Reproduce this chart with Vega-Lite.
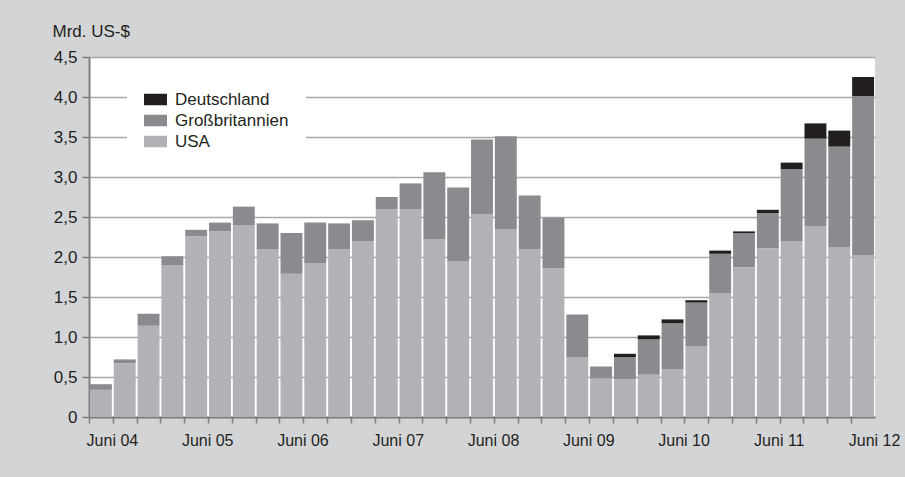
{
  "$schema": "https://vega.github.io/schema/vega-lite/v6.json",
  "width": 786,
  "height": 360,
  "autosize": {"type": "none"},
  "padding": {"left": 89, "top": 57, "right": 30, "bottom": 60},
  "background": "#d3d4d6",
  "view": {"fill": "#ffffff", "stroke": null},
  "data": {
    "values": [
      {"quartal": "Juni 04", "land": "USA", "wert": 0.34},
      {"quartal": "Juni 04", "land": "Großbritannien", "wert": 0.07},
      {"quartal": "Sept. 04", "land": "USA", "wert": 0.67},
      {"quartal": "Sept. 04", "land": "Großbritannien", "wert": 0.05},
      {"quartal": "Dez. 04", "land": "USA", "wert": 1.14},
      {"quartal": "Dez. 04", "land": "Großbritannien", "wert": 0.15},
      {"quartal": "März 05", "land": "USA", "wert": 1.90},
      {"quartal": "März 05", "land": "Großbritannien", "wert": 0.11},
      {"quartal": "Juni 05", "land": "USA", "wert": 2.26},
      {"quartal": "Juni 05", "land": "Großbritannien", "wert": 0.08},
      {"quartal": "Sept. 05", "land": "USA", "wert": 2.32},
      {"quartal": "Sept. 05", "land": "Großbritannien", "wert": 0.11},
      {"quartal": "Dez. 05", "land": "USA", "wert": 2.40},
      {"quartal": "Dez. 05", "land": "Großbritannien", "wert": 0.23},
      {"quartal": "März 06", "land": "USA", "wert": 2.10},
      {"quartal": "März 06", "land": "Großbritannien", "wert": 0.32},
      {"quartal": "Juni 06", "land": "USA", "wert": 1.79},
      {"quartal": "Juni 06", "land": "Großbritannien", "wert": 0.51},
      {"quartal": "Sept. 06", "land": "USA", "wert": 1.92},
      {"quartal": "Sept. 06", "land": "Großbritannien", "wert": 0.51},
      {"quartal": "Dez. 06", "land": "USA", "wert": 2.10},
      {"quartal": "Dez. 06", "land": "Großbritannien", "wert": 0.32},
      {"quartal": "März 07", "land": "USA", "wert": 2.20},
      {"quartal": "März 07", "land": "Großbritannien", "wert": 0.26},
      {"quartal": "Juni 07", "land": "USA", "wert": 2.60},
      {"quartal": "Juni 07", "land": "Großbritannien", "wert": 0.15},
      {"quartal": "Sept. 07", "land": "USA", "wert": 2.60},
      {"quartal": "Sept. 07", "land": "Großbritannien", "wert": 0.32},
      {"quartal": "Dez. 07", "land": "USA", "wert": 2.22},
      {"quartal": "Dez. 07", "land": "Großbritannien", "wert": 0.84},
      {"quartal": "März 08", "land": "USA", "wert": 1.95},
      {"quartal": "März 08", "land": "Großbritannien", "wert": 0.92},
      {"quartal": "Juni 08", "land": "USA", "wert": 2.53},
      {"quartal": "Juni 08", "land": "Großbritannien", "wert": 0.94},
      {"quartal": "Sept. 08", "land": "USA", "wert": 2.35},
      {"quartal": "Sept. 08", "land": "Großbritannien", "wert": 1.16},
      {"quartal": "Dez. 08", "land": "USA", "wert": 2.10},
      {"quartal": "Dez. 08", "land": "Großbritannien", "wert": 0.67},
      {"quartal": "März 09", "land": "USA", "wert": 1.86},
      {"quartal": "März 09", "land": "Großbritannien", "wert": 0.63},
      {"quartal": "Juni 09", "land": "USA", "wert": 0.75},
      {"quartal": "Juni 09", "land": "Großbritannien", "wert": 0.53},
      {"quartal": "Sept. 09", "land": "USA", "wert": 0.48},
      {"quartal": "Sept. 09", "land": "Großbritannien", "wert": 0.15},
      {"quartal": "Dez. 09", "land": "USA", "wert": 0.47},
      {"quartal": "Dez. 09", "land": "Großbritannien", "wert": 0.28},
      {"quartal": "Dez. 09", "land": "Deutschland", "wert": 0.04},
      {"quartal": "März 10", "land": "USA", "wert": 0.53},
      {"quartal": "März 10", "land": "Großbritannien", "wert": 0.44},
      {"quartal": "März 10", "land": "Deutschland", "wert": 0.05},
      {"quartal": "Juni 10", "land": "USA", "wert": 0.60},
      {"quartal": "Juni 10", "land": "Großbritannien", "wert": 0.57},
      {"quartal": "Juni 10", "land": "Deutschland", "wert": 0.05},
      {"quartal": "Sept. 10", "land": "USA", "wert": 0.88},
      {"quartal": "Sept. 10", "land": "Großbritannien", "wert": 0.55},
      {"quartal": "Sept. 10", "land": "Deutschland", "wert": 0.03},
      {"quartal": "Dez. 10", "land": "USA", "wert": 1.55},
      {"quartal": "Dez. 10", "land": "Großbritannien", "wert": 0.49},
      {"quartal": "Dez. 10", "land": "Deutschland", "wert": 0.04},
      {"quartal": "März 11", "land": "USA", "wert": 1.87},
      {"quartal": "März 11", "land": "Großbritannien", "wert": 0.43},
      {"quartal": "März 11", "land": "Deutschland", "wert": 0.02},
      {"quartal": "Juni 11", "land": "USA", "wert": 2.11},
      {"quartal": "Juni 11", "land": "Großbritannien", "wert": 0.44},
      {"quartal": "Juni 11", "land": "Deutschland", "wert": 0.04},
      {"quartal": "Sept. 11", "land": "USA", "wert": 2.20},
      {"quartal": "Sept. 11", "land": "Großbritannien", "wert": 0.90},
      {"quartal": "Sept. 11", "land": "Deutschland", "wert": 0.08},
      {"quartal": "Dez. 11", "land": "USA", "wert": 2.38},
      {"quartal": "Dez. 11", "land": "Großbritannien", "wert": 1.10},
      {"quartal": "Dez. 11", "land": "Deutschland", "wert": 0.19},
      {"quartal": "März 12", "land": "USA", "wert": 2.12},
      {"quartal": "März 12", "land": "Großbritannien", "wert": 1.26},
      {"quartal": "März 12", "land": "Deutschland", "wert": 0.20},
      {"quartal": "Juni 12", "land": "USA", "wert": 2.02},
      {"quartal": "Juni 12", "land": "Großbritannien", "wert": 1.99},
      {"quartal": "Juni 12", "land": "Deutschland", "wert": 0.24}
    ]
  },
  "mark": {"type": "bar", "stroke": null},
  "encoding": {
    "x": {
      "field": "quartal",
      "type": "nominal",
      "sort": null,
      "scale": {"paddingInner": 0.08, "paddingOuter": 0.04},
      "axis": {
        "title": null,
        "bandPosition": 0,
        "tickOffset": -1,
        "labelOffset": 12,
        "labelAngle": 0,
        "labelAlign": "center",
        "labelOverlap": false,
        "labelExpr": "indexof(datum.label, 'Juni') === 0 ? datum.label : ''",
        "labelFont": "Liberation Sans",
        "labelFontSize": 16,
        "labelColor": "#231f20",
        "labelPadding": 9,
        "tickSize": 6,
        "tickColor": "#7d7e80",
        "tickWidth": 1.5,
        "domainColor": "#7d7e80",
        "domainWidth": 2,
        "grid": false
      }
    },
    "y": {
      "field": "wert",
      "type": "quantitative",
      "stack": "zero",
      "scale": {"domain": [0, 4.5], "nice": false, "zero": true},
      "axis": {
        "title": "Mrd. US-$",
        "titleAngle": 0,
        "titleAlign": "left",
        "titleBaseline": "alphabetic",
        "titleX": -37,
        "titleY": -21,
        "titleFont": "Liberation Sans",
        "titleFontSize": 17,
        "titleFontWeight": "normal",
        "titleColor": "#231f20",
        "values": [0, 0.5, 1, 1.5, 2, 2.5, 3, 3.5, 4, 4.5],
        "labelExpr": "datum.value === 0 ? '0' : replace(format(datum.value, '.1f'), '.', ',')",
        "labelFont": "Liberation Sans",
        "labelFontSize": 17,
        "labelColor": "#231f20",
        "labelPadding": 5,
        "tickSize": 7,
        "tickColor": "#7d7e80",
        "tickWidth": 1.5,
        "domainColor": "#7d7e80",
        "domainWidth": 2,
        "grid": true,
        "gridColor": "#a8a9ab",
        "gridWidth": 1.5
      }
    },
    "color": {
      "field": "land",
      "type": "nominal",
      "scale": {
        "domain": ["Deutschland", "Großbritannien", "USA"],
        "range": ["#231f20", "#8a8b8e", "#b1b2b5"]
      },
      "legend": {
        "title": null,
        "orient": "none",
        "legendX": 38,
        "legendY": 14,
        "direction": "vertical",
        "fillColor": "#ffffff",
        "padding": 17,
        "symbolType": "M-1,-0.5H1V0.5H-1Z",
        "symbolSize": 529,
        "symbolStrokeWidth": 0,
        "symbolOpacity": 1,
        "labelFont": "Liberation Sans",
        "labelFontSize": 17,
        "labelColor": "#231f20",
        "labelOffset": 8,
        "rowPadding": 1
      }
    },
    "order": {"field": "land", "sort": "descending"}
  }
}
